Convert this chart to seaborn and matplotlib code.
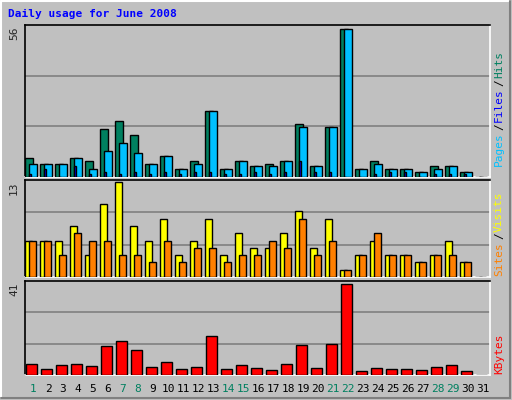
import numpy as np
import pandas as pd
import seaborn as sns
import matplotlib.pyplot as plt
from matplotlib.lines import Line2D

days = list(range(1, 32))
weekends = [1, 7, 8, 14, 15, 21, 22, 28, 29]
hits = [7, 5, 5, 7, 6, 18, 21, 16, 5, 8, 3, 6, 25, 3, 6, 4, 5, 6, 20, 4, 19, 56, 3, 6, 3, 3, 2, 4, 4, 2, 0]
files = [5, 5, 5, 7, 3, 10, 13, 9, 5, 8, 3, 5, 25, 3, 6, 4, 4, 6, 19, 4, 19, 56, 3, 5, 3, 3, 2, 3, 4, 2, 0]
pages = [1, 3, 0, 4, 1, 2, 1, 2, 1, 2, 1, 2, 2, 1, 1, 2, 1, 2, 6, 2, 2, 0, 0, 1, 2, 2, 0, 1, 1, 1, 0]
visits = [5, 5, 5, 7, 3, 10, 13, 7, 5, 8, 3, 5, 8, 3, 6, 4, 4, 6, 9, 4, 8, 1, 3, 5, 3, 3, 2, 3, 5, 2, 0]
sites = [5, 5, 3, 6, 5, 5, 3, 3, 2, 5, 2, 4, 4, 2, 3, 3, 5, 4, 8, 3, 5, 1, 3, 6, 3, 3, 2, 3, 3, 2, 0]
kbytes = [4.8, 2.5, 4.3, 4.8, 3.9, 13.3, 15.5, 11.5, 3.4, 6.1, 2.5, 3.4, 17.8, 2.5, 4.3, 3.0,
          2.1, 4.8, 13.7, 3.0, 14.2, 41, 1.6, 3.0, 2.5, 2.5, 2.1, 3.4, 4.3, 1.6, 0]

sns.set_style("white")
plt.rcParams['font.family'] = ['DejaVu Sans Mono']
BG = "#C0C0C0"
W, H = 512, 400

fig = plt.figure(figsize=(W / 100, H / 100), dpi=100, facecolor=BG)


def make_ax(top, bottom):
    ax = fig.add_axes([25 / W, 1 - bottom / H, 465 / W, (bottom - top) / H])
    ax.set_facecolor(BG)
    for s in ax.spines.values():
        s.set_linewidth(1.2)
    ax.spines["left"].set_color("black")
    ax.spines["top"].set_color("black")
    ax.spines["right"].set_color("white")
    ax.spines["bottom"].set_color("white")
    return ax


def bars(ax, vals, off, width, color):
    d = np.array(days, dtype=float)
    df = pd.DataFrame({"x": d + off, "y": vals})
    sns.barplot(data=df, x="x", y="y", native_scale=True, width=width,
                color=color, edgecolor="black", linewidth=1, saturation=1, ax=ax)


def grid(ax, top):
    ax.set_ylim(0, top)
    for f in (1 / 3, 2 / 3):
        ax.axhline(top * f, color="#808080", lw=1.2, zorder=0.5)
    for p in ax.patches:
        p.set_zorder(3)


ax1 = make_ax(25, 177)
bars(ax1, hits, 0.27, 0.5, "#008060")
bars(ax1, files, 0.53, 0.5, "#00C0FF")
bars(ax1, pages, 0.33, 0.12, "#0000FF")
grid(ax1, 57.5)

ax2 = make_ax(180, 277)
bars(ax2, visits, 0.25, 0.48, "#FFFF00")
bars(ax2, sites, 0.52, 0.48, "#FF8000")
grid(ax2, 13.3)

ax3 = make_ax(281, 375)
bars(ax3, kbytes, 0.43, 0.7, "#FF0000")
grid(ax3, 42.5)

for ax in (ax1, ax2, ax3):
    ax.set_xlim(1, 32)
    ax.set_xlabel("")
    ax.set_ylabel("")
    ax.tick_params(length=0, labelleft=False, labelbottom=False)

# day labels
for d in days:
    fig.text((25 + 15 * (d - 1) + 8) / W, 1 - 389 / H, str(d), ha="center", va="center",
             fontsize=8, color="#008060" if d in weekends else "black")

# max labels
for val, y in (("56", 33), ("13", 188), ("41", 289)):
    fig.text(14 / W, 1 - y / H, val, rotation=90, ha="center", va="center", fontsize=8)

fig.text(8 / W, 1 - 14 / H, "Daily usage for June 2008", ha="left", va="center",
         fontsize=8, fontweight="bold", color="#0000FF")


def side_label(parts, y_bottom):
    y = 1 - y_bottom / H
    for txt, col in parts:
        fig.text(499 / W, y, txt, rotation=90, ha="center", va="bottom", fontsize=8, color=col)
        y += len(txt) * 7.3 / H


side_label([("Pages", "#00C0FF"), ("/", "black"), ("Files", "#0000FF"), ("/", "black"), ("Hits", "#008060")], 166)
side_label([("Sites", "#FF8000"), ("/", "black"), ("Visits", "#FFFF00")], 276)
side_label([("KBytes", "#FF0000")], 374)


# 3D frame
def line(x0, y0, x1, y1, c):
    fig.add_artist(Line2D([x0 / W, x1 / W], [1 - y0 / H, 1 - y1 / H], color=c, lw=1.5))


line(1, 1, 510, 1, "white")
line(1, 1, 1, 398, "white")
line(1, 398, 510, 398, "#808080")
line(510, 1, 510, 398, "#808080")

fig.savefig("out.png", dpi=100, facecolor=BG)
